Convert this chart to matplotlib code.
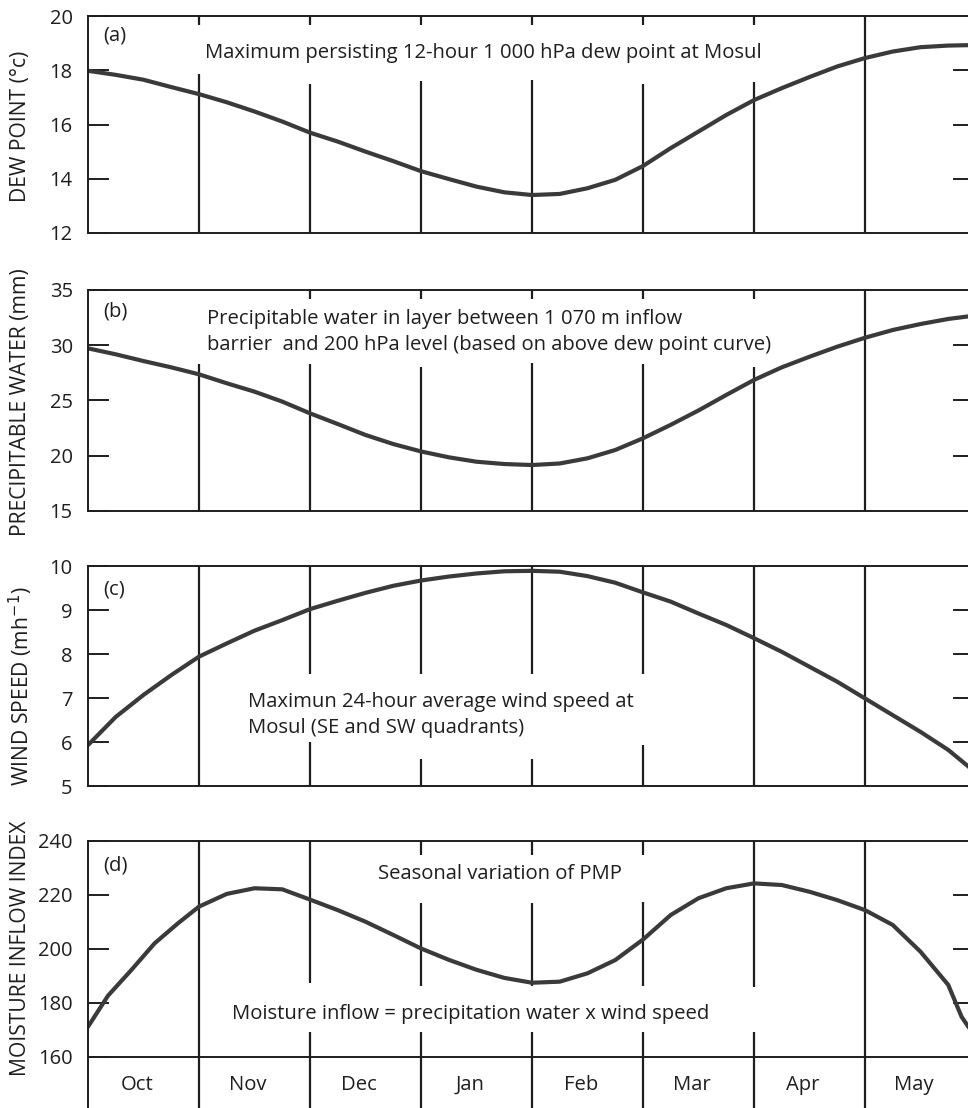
import matplotlib
matplotlib.use("Agg")
import matplotlib.pyplot as plt

plt.rcParams['font.family'] = ['Open Sans', 'DejaVu Sans']

# ---- data (months counted from 1 October) ----
months = ["Oct", "Nov", "Dec", "Jan", "Feb", "Mar", "Apr", "May"]

q_x = [0, 0.25, 0.5, 0.75, 1, 1.25, 1.5, 1.75, 2, 2.25, 2.5, 2.75, 3, 3.25,
       3.5, 3.75, 4, 4.25, 4.5, 4.75, 5, 5.25, 5.5, 5.75, 6, 6.25, 6.5,
       6.75, 7, 7.25, 7.5, 7.75, 8]

dew_point = [17.98, 17.83, 17.65, 17.38, 17.12, 16.82, 16.48, 16.11, 15.70,
             15.37, 15.00, 14.65, 14.28, 13.99, 13.71, 13.50, 13.40, 13.44,
             13.65, 13.96, 14.47, 15.13, 15.74, 16.35, 16.90, 17.34, 17.75,
             18.14, 18.45, 18.69, 18.85, 18.91, 18.93]

precip_water = [29.72, 29.18, 28.57, 28.00, 27.37, 26.56, 25.80, 24.90,
                23.84, 22.87, 21.88, 21.06, 20.39, 19.86, 19.46, 19.25,
                19.16, 19.30, 19.77, 20.52, 21.58, 22.80, 24.10, 25.50,
                26.86, 28.00, 28.96, 29.87, 30.68, 31.38, 31.92, 32.38,
                32.70]

wind_speed = [5.93, 6.57, 7.07, 7.52, 7.94, 8.24, 8.53, 8.77, 9.02, 9.21,
              9.39, 9.55, 9.67, 9.76, 9.83, 9.88, 9.89, 9.87, 9.77, 9.62,
              9.40, 9.19, 8.92, 8.66, 8.36, 8.05, 7.71, 7.37, 6.99, 6.61,
              6.23, 5.82, 5.30]

mi_x = [0, 0.18, 0.39, 0.6, 0.81, 1, 1.25, 1.5, 1.75, 2, 2.25, 2.5, 2.75,
        3, 3.25, 3.5, 3.75, 4, 4.25, 4.5, 4.75, 5, 5.25, 5.5, 5.75, 6, 6.25,
        6.5, 6.75, 7, 7.25, 7.5, 7.75, 7.87, 8]
moisture_index = [171.2, 182.7, 192.2, 202.1, 209.5, 215.7, 220.4, 222.5,
                  222.1, 218.3, 214.4, 210.1, 205.2, 200.2, 196.0, 192.3,
                  189.3, 187.5, 187.9, 191.0, 195.9, 203.5, 212.6, 218.8,
                  222.5, 224.3, 223.7, 221.2, 218.1, 214.4, 208.9, 199.0,
                  186.7, 174.9, 167.0]

dew_ticks = [12, 14, 16, 18, 20]
pw_ticks = [15, 20, 25, 30, 35]
wind_ticks = [5, 6, 7, 8, 9, 10]
mi_ticks = [160, 180, 200, 220, 240]

# ---- figure layout (pixel based) ----
W, H = 968, 1108
DPI = 100
fig = plt.figure(figsize=(W / DPI, H / DPI), dpi=DPI)
fig.patch.set_facecolor("white")

X0, X1 = 88, 976          # left / right edges of the month grid in pixels


def add_panel(top, bottom):
    return fig.add_axes([X0 / W, 1 - bottom / H, (X1 - X0) / W,
                         (bottom - top) / H])


INK = "#1e1e1e"
CURVE = "#3a3a3a"
FS = 14.6
TICK_FS = 14.5
LABEL_FS = 15.2


def style(ax, ylim, ticks, right_ticks):
    ax.set_xlim(0, 8)
    ax.set_ylim(*ylim)
    ax.set_xticks([])
    ax.set_yticks(ticks)
    ax.set_yticklabels([str(t) for t in ticks], fontsize=TICK_FS, color=INK)
    ax.tick_params(axis="y", direction="in", length=15, width=1.4,
                   color=INK, pad=11, right=False)
    for s in ax.spines.values():
        s.set_color(INK)
        s.set_linewidth(1.4)
    # inward ticks on the right-hand frame
    for t in right_ticks:
        ax.plot([7.8, 8.0], [t, t], color=INK, lw=1.4, clip_on=False)


def grid_lines(ax, segments):
    for x, segs in segments.items():
        for lo, hi in segs:
            ax.vlines(x, lo, hi, color=INK, lw=1.6)


def curve(ax, x, y):
    ax.plot(x, y, color=CURVE, lw=3.0, solid_capstyle="round",
            solid_joinstyle="round")


def ytitle(text, ycenter):
    fig.text(21 / W, 1 - ycenter / H, text, rotation=90, ha="center",
             va="center", fontsize=LABEL_FS, color=INK)


def note(x, y, text):
    fig.text(x / W, 1 - y / H, text, ha="left", va="center", fontsize=FS,
             color=INK)


# (a) dew point
axa = add_panel(16, 233)
style(axa, (12, 20), dew_ticks, [14, 16, 18])
grid_lines(axa, {
    1: [(12, 17.87), (19.67, 20)],
    2: [(12, 17.5), (19.67, 20)],
    3: [(12, 17.6), (19.67, 20)],
    4: [(12, 17.65), (19.67, 20)],
    5: [(12, 17.5), (19.67, 20)],
    6: [(12, 17.55), (19.67, 20)],
    7: [(12, 20)],
})
curve(axa, q_x, dew_point)
ytitle("DEW POINT (°c)", 126)
note(103, 35, "(a)")
note(205, 53, "Maximum persisting 12-hour 1 000 hPa dew point at Mosul")

# (b) precipitable water
axb = add_panel(290, 511)
style(axb, (15, 35), pw_ticks, [20, 25, 30])
grid_lines(axb, {
    1: [(15, 28.3)],
    2: [(15, 28.3), (34.2, 35)],
    3: [(15, 28.0), (34.2, 35)],
    4: [(15, 28.4), (34.2, 35)],
    5: [(15, 28.3), (34.2, 35)],
    6: [(15, 28.0), (34.2, 35)],
    7: [(15, 35)],
})
curve(axb, q_x, precip_water)
ytitle("PRECIPITABLE WATER (mm)", 402)
note(103, 312, "(b)")
note(207, 319, "Precipitable water in layer between 1 070 m inflow")
note(207, 345, "barrier  and 200 hPa level (based on above dew point curve)")

# (c) wind speed
axc = add_panel(566, 786)
style(axc, (5, 10), wind_ticks, [6, 7, 8, 9])
grid_lines(axc, {
    1: [(5, 10)],
    2: [(5, 6.0), (7.55, 10)],
    3: [(5, 5.61), (7.55, 10)],
    4: [(5, 5.61), (7.55, 10)],
    5: [(5, 5.93), (7.55, 10)],
    6: [(5, 10)],
    7: [(5, 10)],
})
curve(axc, q_x, wind_speed)
ytitle("WIND SPEED (mh$^{-1}$)", 686)
note(103, 590, "(c)")
note(248, 702, "Maximun 24-hour average wind speed at")
note(248, 728, "Mosul (SE and SW quadrants)")

# (d) moisture inflow index, with the month strip underneath
axd = add_panel(841, H)
mi_bottom = 160 - (H - 1057) / 2.7
style(axd, (mi_bottom, 240), mi_ticks, [180, 200, 220])
axd.spines["bottom"].set_visible(False)
axd.axhline(160, color=INK, lw=1.4)
grid_lines(axd, {
    1: [(mi_bottom, 240)],
    2: [(mi_bottom, 169.3), (187.4, 240)],
    3: [(mi_bottom, 169.3), (186.3, 217), (234.8, 240)],
    4: [(mi_bottom, 169.3), (186.3, 217), (234.8, 240)],
    5: [(mi_bottom, 169.3), (186.3, 217.5), (234.8, 240)],
    6: [(mi_bottom, 169.3), (185.9, 240)],
    7: [(mi_bottom, 240)],
})
curve(axd, mi_x, moisture_index)
for i, m in enumerate(months):
    axd.text(i + 0.44, 160 - 28 / 2.7, m, ha="center", va="center",
             fontsize=FS, color=INK)
ytitle("MOISTURE INFLOW INDEX", 948)
note(103, 866, "(d)")
note(378, 874, "Seasonal variation of PMP")
note(232, 1014, "Moisture inflow = precipitation water x wind speed")

fig.savefig("out.png", dpi=DPI)
